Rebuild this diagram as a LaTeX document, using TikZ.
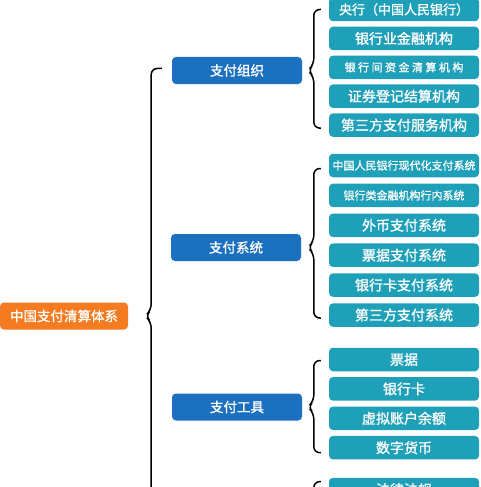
\documentclass[tikz,border=0pt]{standalone}
\usepackage{fontspec}
\setmainfont{Noto Sans CJK SC}
\newfontfamily\boxfont{Noto Sans CJK SC}[FakeBold=1.2]
\usepackage{tikz}
\usetikzlibrary{positioning, calc}
\definecolor{rootorange}{RGB}{244, 123, 32}
\definecolor{midblue}{RGB}{27, 112, 192}
\definecolor{leafteal}{RGB}{31, 160, 185}
\tikzset{
    rootbox/.style = {rectangle, fill=rootorange, text=white, rounded corners=4pt, minimum width=128pt, minimum height=27pt, inner sep=0pt, font=\boxfont\fontsize{13.5}{15}\selectfont},
    midbox/.style = {rectangle, fill=midblue, text=white, rounded corners=4pt, minimum width=130pt, minimum height=27pt, inner sep=0pt, font=\boxfont\fontsize{13.5}{15}\selectfont},
    leafbox/.style = {rectangle, fill=leafteal, text=white, rounded corners=4pt, minimum width=150pt, minimum height=23.5pt, inner sep=0pt, font=\boxfont\fontsize{14}{16}\selectfont},
    smalltext/.style = {font=\boxfont\fontsize{11}{13}\selectfont},
    bracket/.style = {draw=black, line width=1.5pt, rounded corners=6pt}
}

\begin{document}
\begin{tikzpicture}[x=1pt, y=-1pt]
\useasboundingbox (0,0) rectangle (480,487);
\clip (0,0) rectangle (480,487);

% Nodes
\node (root) [rootbox] at (64,316) {中国支付清算体系};

\node (org) [midbox] at (237,70.5) {支付组织};
\node (sys) [midbox] at (236,247.5) {支付系统};
\node (tool) [midbox] at (237,407) {支付工具};

\node (o1) [leafbox, font=\boxfont\fontsize{13}{15}\selectfont] at (404,9.5) {央行（中国人民银行）};
\node (o2) [leafbox, below=5pt of o1] {银行业金融机构};
\node (o3) [leafbox, below=5pt of o2, smalltext] {银 行 间 资 金 清 算 机 构};
\node (o4) [leafbox, below=5pt of o3] {证券登记结算机构};
\node (o5) [leafbox, below=5pt of o4] {第三方支付服务机构};

\node (s1) [leafbox, smalltext] at (404,165.5) {中国人民银行现代化支付系统};
\node (s2) [leafbox, below=6pt of s1, smalltext] {银行类金融机构行内系统};
\node (s3) [leafbox, below=6pt of s2] {外币支付系统};
\node (s4) [leafbox, below=6pt of s3] {票据支付系统};
\node (s5) [leafbox, below=6pt of s4] {银行卡支付系统};
\node (s6) [leafbox, below=6pt of s5] {第三方支付系统};

\node (t1) [leafbox] at (404,359.5) {票据};
\node (t2) [leafbox, below=5.5pt of t1] {银行卡};
\node (t3) [leafbox, below=5.5pt of t2] {虚拟账户余额};
\node (t4) [leafbox, below=5.5pt of t3] {数字货币};

\node (l1) [leafbox, below=18pt of t4] {法律法规};

\coordinate (rest) at (162,560);

% Braces
\draw [bracket] ($(org.west)+(-10,-2)$) -| ($(root.east)+(23,-6)$) -- ($(root.east)+(17,0)$) -- ($(root.east)+(23,6)$) |- (rest);

\draw [bracket] ($(o1.west)+(-8,0)$) -| ($(o1.west |- org.east)+(-15,-6)$) -- ($(o1.west |- org.east)+(-21,0)$) -- ($(o1.west |- org.east)+(-15,6)$) |- ($(o5.west)+(-8,3)$);

\draw [bracket] ($(s1.west)+(-8,3)$) -| ($(s1.west |- sys.east)+(-15,-6)$) -- ($(s1.west |- sys.east)+(-21,0)$) -- ($(s1.west |- sys.east)+(-15,6)$) |- ($(s6.west)+(-8,3)$);

\draw [bracket] ($(t1.west)+(-8,1)$) -| ($(t1.west |- tool.east)+(-15,-6)$) -- ($(t1.west |- tool.east)+(-21,0)$) -- ($(t1.west |- tool.east)+(-15,6)$) |- ($(t4.west)+(-8,5)$);

\draw [bracket] ($(l1.west)+(-8,-8)$) -| ($(l1.west)+(-15,60)$);

\end{tikzpicture}
\end{document}
